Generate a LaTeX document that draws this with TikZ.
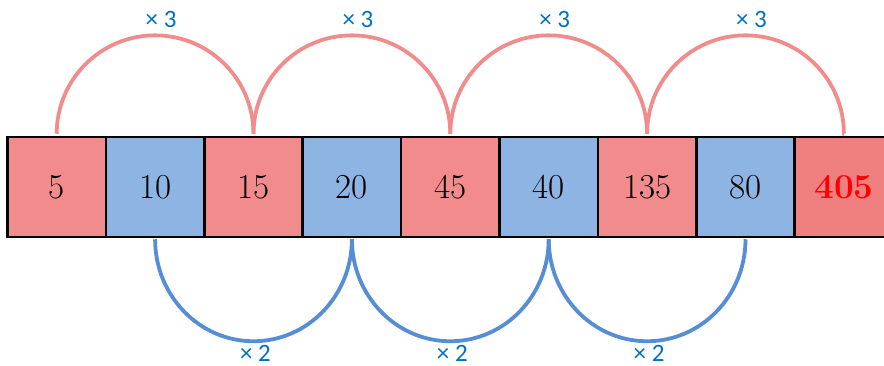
\documentclass[tikz,border=0pt]{standalone}
\usepackage{fontspec}
\newfontfamily\labelfont{Carlito}
\usepackage{xcolor}
\definecolor{pinkcell}{RGB}{242,139,139}
\definecolor{bluecell}{RGB}{142,180,227}
\definecolor{lastcell}{RGB}{240,128,128}
\definecolor{pinkarc}{RGB}{241,140,140}
\definecolor{bluearc}{RGB}{85,142,213}
\definecolor{labelblue}{RGB}{0,112,192}

\begin{document}
\begin{tikzpicture}[x=1pt,y=1pt,
  cell/.style={draw=black,line width=2.5pt,minimum width=98.4pt,minimum height=100pt,inner sep=0pt,font=\fontsize{35}{40}\selectfont},
  uparc/.style={draw=pinkarc,line width=3.8pt},
  downarc/.style={draw=bluearc,line width=3.8pt},
  steplabel/.style={inner sep=0pt,text=labelblue,font=\labelfont\fontsize{25}{30}\selectfont}]
\useasboundingbox (0,0) rectangle (884,365);
\clip (0,0) rectangle (884,365);
% the row of cells
\foreach \v/\c [count=\i] in {5/pinkcell,10/bluecell,15/pinkcell,20/bluecell,45/pinkcell,40/bluecell,135/pinkcell,80/bluecell}
  \node[cell,fill=\c] (b\i) at (98.4*\i-41.7,178) {\v};
\node[cell,fill=lastcell,text=red,font=\fontsize{35}{40}\selectfont\bfseries] (b9) at (843.9,178) {405};
% times 3 above, times 2 below
\foreach \a/\b in {1/3,3/5,5/7,7/9}
  \draw[uparc] ([yshift=2pt]b\a.north) arc[start angle=180,end angle=0,radius=98.4]
    node[pos=0.5,steplabel,above=6pt,xshift=6pt] {× 3} -- ([yshift=2pt]b\b.north);
\foreach \a/\b in {2/4,4/6,6/8}
  \draw[downarc] ([yshift=-1pt]b\a.south) arc[start angle=180,end angle=360,x radius=98.4,y radius=102]
    node[pos=0.5,steplabel,below=2pt,xshift=2pt] {× 2} -- ([yshift=-1pt]b\b.south);
\end{tikzpicture}
\end{document}
